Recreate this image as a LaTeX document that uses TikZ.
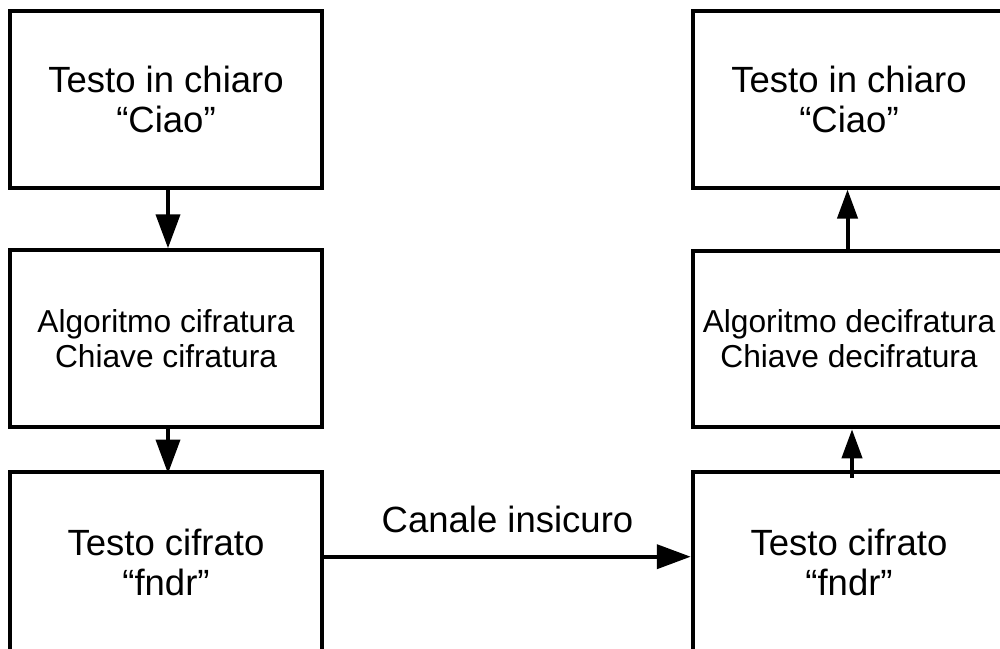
\documentclass[tikz,border=0pt]{standalone}
\usepackage{fontspec}
\setmainfont{Liberation Sans}
\usetikzlibrary{arrows.meta}

\tikzset{
  block/.style={draw, line width=4pt, inner sep=0pt, align=center,
    minimum width=312.5pt, minimum height=176.5pt},
  tallblock/.style={block, minimum height=182pt},
  bigtext/.style={font=\fontsize{36.5}{40.5}\selectfont},
  smalltext/.style={font=\fontsize{31.7}{35}\selectfont},
  flow/.style={line width=4pt, -{Triangle[length=34pt,width=24pt]}},
  flowsmall/.style={line width=4pt, -{Triangle[length=29pt,width=20pt]}},
}

\begin{document}
\begin{tikzpicture}[x=1pt, y=-1pt]
  \useasboundingbox (0,0) rectangle (1000,648);

  % sender column
  \node[block, bigtext]   (plainL)  at (166,99.25) {Testo in chiaro\\“Ciao”};
  \node[block, smalltext] (algoL)   at (166,338.5) {Algoritmo cifratura\\Chiave cifratura};
  \node[tallblock, bigtext] (cipherL) at (166,562.5) {Testo cifrato\\“fndr”};

  % receiver column
  \node[block, bigtext]   (plainR)  at (849,99.25) {Testo in chiaro\\“Ciao”};
  \node[block, smalltext] (algoR)   at (849,339)   {Algoritmo decifratura\\Chiave decifratura};
  \node[tallblock, bigtext] (cipherR) at (849,562.5) {Testo cifrato\\“fndr”};

  % encryption flow
  \draw[flow] ([xshift=2pt]plainL.south) -- ([xshift=2pt]algoL.north);
  \draw[flow, shorten >=-4pt] ([xshift=2pt]algoL.south) -- ([xshift=2pt]cipherL.north);

  % insecure channel
  \draw[flow] ([yshift=5.8pt]cipherL.east) -- ([yshift=5.8pt]cipherR.west)
    node[pos=0.5, above=21.7pt, inner sep=0pt, bigtext] (channel) {Canale insicuro};

  % decryption flow
  \draw[flowsmall] ([xshift=3pt,yshift=-8pt]cipherR.north) -- ([xshift=3pt]algoR.south);
  \draw[flowsmall] ([xshift=-1.5pt]algoR.north) -- ([xshift=-1.5pt]plainR.south);
\end{tikzpicture}
\end{document}
